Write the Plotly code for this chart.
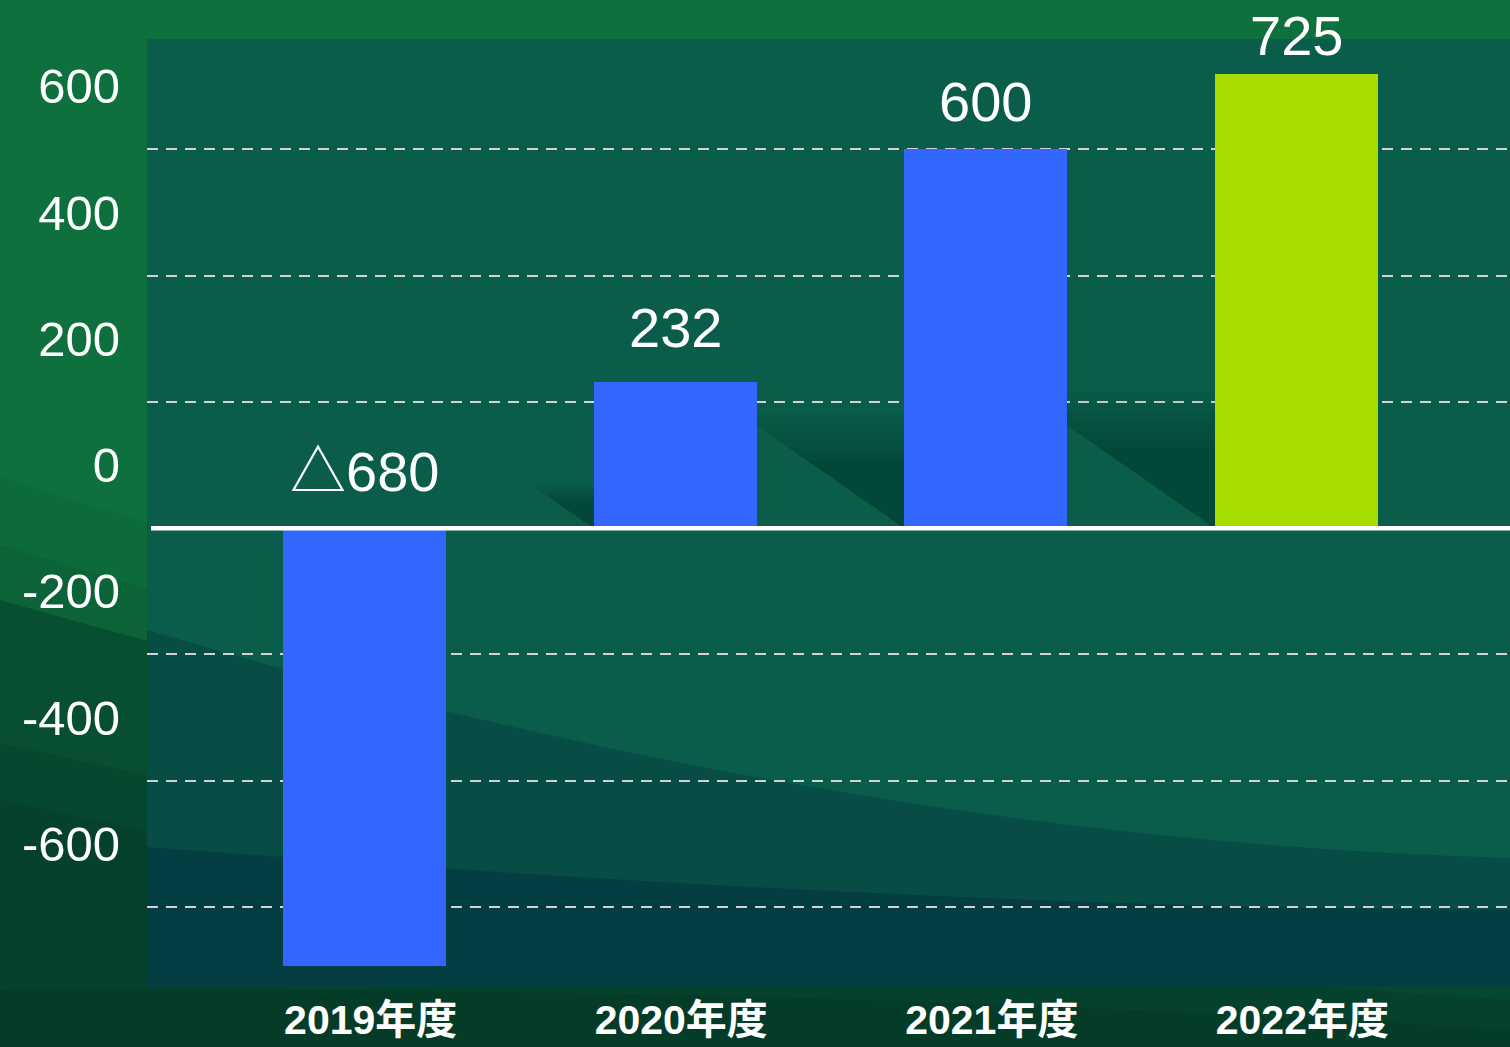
import base64
import plotly.graph_objects as go

# ---- data ----
categories = ["2019年度", "2020年度", "2021年度", "2022年度"]
bar_values = [-694, 232, 600, 720]
value_labels = ["△680", "232", "600", "725"]
bar_colors = ["#3366FF", "#3366FF", "#3366FF", "#A6DC00"]
grid_values = [-600, -400, -200, 200, 400, 600]
ytick_positions = [700, 500, 300, 100, -100, -300, -500]
ytick_labels = ["600", "400", "200", "0", "-200", "-400", "-600"]

# ---- layout geometry / style ----
W, H = 1510, 1047
ML, MR, MT, MB = 147, 0, 39, 60
BAR_W = 0.525
label_shift = [57, 54, 48, 38]
FONT = "Liberation Sans, Arial, Noto Sans CJK JP, sans-serif"


def svg_uri(svg):
    return "data:image/svg+xml;base64," + base64.b64encode(svg.encode("utf-8")).decode("ascii")


paper_svg = f"""<svg xmlns='http://www.w3.org/2000/svg' width='{W}' height='{H}' viewBox='0 0 {W} {H}' preserveAspectRatio='none'>
<rect width='{W}' height='{H}' fill='#0E703C'/>
<path d='M0,477 Q700,700 1510,860 L1510,1047 L0,1047 Z' fill='#0D6A39'/>
<path d='M0,545 Q700,760 1510,900 L1510,1047 L0,1047 Z' fill='#0C6337'/>
<path d='M0,600 Q700,800 1510,930 L1510,1047 L0,1047 Z' fill='#084F31'/>
<path d='M0,743 Q700,900 1510,980 L1510,1047 L0,1047 Z' fill='#06482F'/>
<path d='M0,800 Q700,950 1510,1000 L1510,1047 L0,1047 Z' fill='#05412C'/>
<path d='M0,990 Q800,985 1510,1030 L1510,1047 L0,1047 Z' fill='#043C28'/>
</svg>"""

PW, PH = W - ML - MR, H - MT - MB
plot_svg = f"""<svg xmlns='http://www.w3.org/2000/svg' width='{PW}' height='{PH}' viewBox='0 0 {PW} {PH}' preserveAspectRatio='none'>
<rect width='{PW}' height='{PH}' fill='#0A5C4B'/>
<path d='M0,591 Q700,800 {PW},819 L{PW},{PH} L0,{PH} Z' fill='#074C45'/>
<path d='M0,808 Q800,870 {PW},871 L{PW},{PH} L0,{PH} Z' fill='#043D42'/>
</svg>"""

fig = go.Figure()
fig.add_trace(go.Bar(
    x=categories, y=bar_values, width=BAR_W,
    marker=dict(color=bar_colors, line=dict(width=0)),
    hoverinfo="skip", showlegend=False,
))

# soft cast shadows to the left of positive bars (layered translucent triangles)
for i, v in enumerate(bar_values):
    if v <= 0:
        continue
    xl = i - BAR_W / 2
    for s in [1.25, 1.15, 1.06, 0.98, 0.9, 0.82, 0.74]:
        h = 0.24 * v * s
        w = 0.0007 * v * s
        fig.add_shape(
            type="path", xref="x", yref="y", layer="between",
            path=f"M {xl},0 L {xl},{h} L {xl - w},{h} Z",
            fillcolor="rgba(0,25,20,0.045)", line=dict(width=0),
        )

for cat, v, lab, sh in zip(categories, bar_values, value_labels, label_shift):
    fig.add_annotation(
        x=cat, y=max(v, 0), xref="x", yref="y", text=lab, showarrow=False,
        yanchor="middle", yshift=sh,
        font=dict(family=FONT, size=56, color="white"),
    )

# zero line drawn above bars
fig.add_shape(type="line", xref="x domain", yref="y", x0=0.003, x1=1, y0=0, y1=0,
              line=dict(color="white", width=4.5), layer="above")

fig.update_layout(
    width=W, height=H,
    margin=dict(l=ML, r=MR, t=MT, b=MB, autoexpand=False),
    paper_bgcolor="#0E703C",
    plot_bgcolor="rgba(0,0,0,0)",
    bargap=0,
    images=[
        dict(source=svg_uri(paper_svg), xref="paper", yref="paper", x=-ML / PW, y=1 + MT / PH,
             sizex=W / PW, sizey=H / PH, sizing="stretch", layer="below", xanchor="left", yanchor="top"),
        dict(source=svg_uri(plot_svg), xref="x domain", yref="y domain", x=0, y=1,
             sizex=1, sizey=1, sizing="stretch", layer="below", xanchor="left", yanchor="top"),
    ],
    xaxis=dict(
        type="category", categoryorder="array", categoryarray=categories,
        range=[-0.701, 3.688], showgrid=False, zeroline=False, showline=False, ticks="",
        ticklabelstandoff=5, ticklabelshift=6, automargin=False,
        tickfont=dict(family=FONT, size=41, color="white", weight="bold"),
        fixedrange=True,
    ),
    yaxis=dict(
        range=[-727, 775], tickmode="array", tickvals=ytick_positions, ticktext=ytick_labels,
        showgrid=False, zeroline=False, showline=False, ticks="", ticklabelstandoff=26,
        automargin=False,
        tickfont=dict(family=FONT, size=49, color="white"),
        minor=dict(tickmode="array", tickvals=grid_values, showgrid=True, gridcolor="#D2D2D2",
                   griddash="11px,8px", gridwidth=2, ticks=""),
        fixedrange=True,
    ),
)

fig.write_html(
    "out.html",
    config={"displayModeBar": False},
    post_script="document.body.style.margin='0';document.body.style.overflow='hidden';",
)
